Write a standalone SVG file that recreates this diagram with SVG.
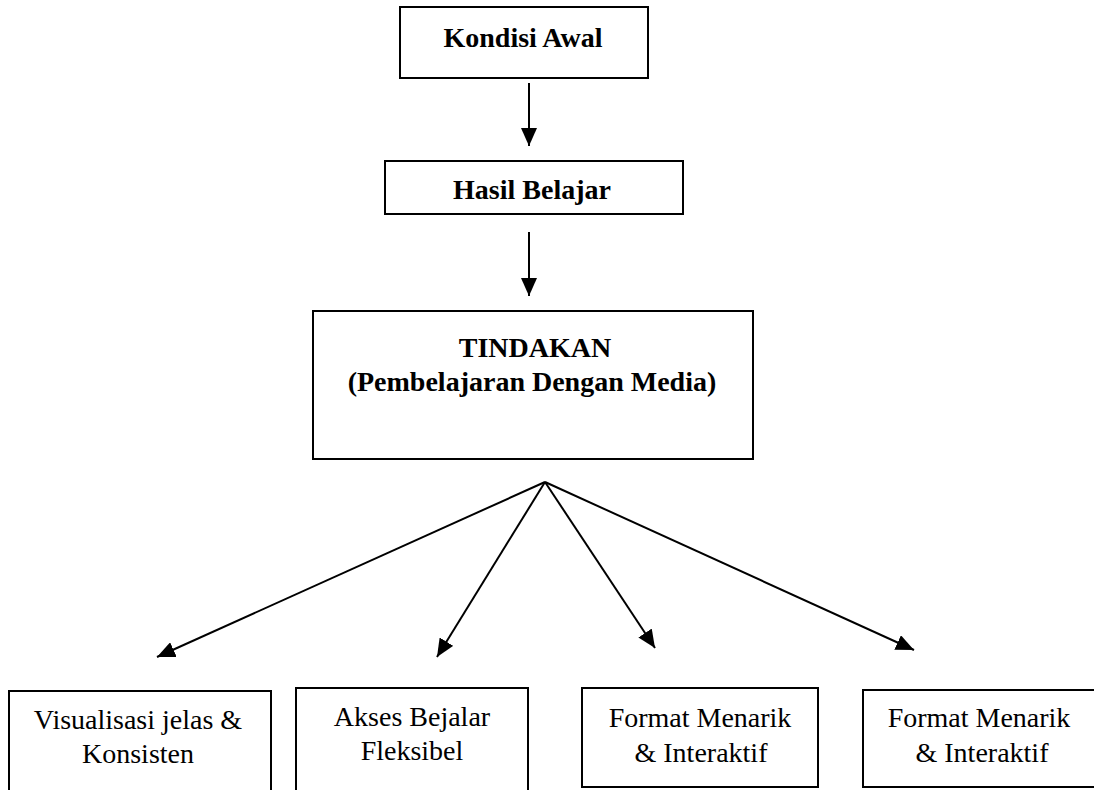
<svg xmlns="http://www.w3.org/2000/svg" width="1094" height="790" viewBox="0 0 1094 790">
<defs>
<style>
.box{fill:#fff;stroke:#000;stroke-width:2}
.t{font-family:"Liberation Serif","Times New Roman",serif;font-size:28px;fill:#000;text-anchor:middle}
.b{font-weight:bold}
.c{stroke:#000;stroke-width:2;fill:none}
</style>
<marker id="ah" markerUnits="userSpaceOnUse" viewBox="0 0 18 16" refX="18" refY="8" markerWidth="18" markerHeight="16" orient="auto">
<path d="M0,0 L18,8 L0,16 z" fill="#000"/>
</marker>
</defs>
<rect width="1094" height="790" fill="#fff"/>
<g id="connectors">
<line class="c" x1="529" y1="83" x2="529" y2="146" marker-end="url(#ah)"/>
<line class="c" x1="529" y1="232" x2="529" y2="296" marker-end="url(#ah)"/>
<line class="c" x1="545" y1="482" x2="157" y2="657" marker-end="url(#ah)"/>
<line class="c" x1="545" y1="482" x2="437" y2="657" marker-end="url(#ah)"/>
<line class="c" x1="545" y1="482" x2="655" y2="648" marker-end="url(#ah)"/>
<line class="c" x1="545" y1="482" x2="914" y2="650" marker-end="url(#ah)"/>
</g>
<g id="kondisi">
<rect class="box" x="400" y="7" width="248" height="71"/>
<text class="t b" x="523" y="47">Kondisi Awal</text>
</g>
<g id="hasil">
<rect class="box" x="385" y="161" width="298" height="53"/>
<text class="t b" x="532" y="199">Hasil Belajar</text>
</g>
<g id="tindakan">
<rect class="box" x="313" y="311" width="440" height="148"/>
<text class="t b" x="535" y="357">TINDAKAN</text>
<text class="t b" x="532" y="391">(Pembelajaran Dengan Media)</text>
</g>
<g id="visualisasi">
<rect class="box" x="9" y="691" width="262" height="110"/>
<text class="t" x="138" y="729">Visualisasi jelas &amp;</text>
<text class="t" x="138" y="763">Konsisten</text>
</g>
<g id="akses">
<rect class="box" x="296" y="688" width="232" height="113"/>
<text class="t" x="412" y="726">Akses Bejalar</text>
<text class="t" x="412" y="760">Fleksibel</text>
</g>
<g id="format1">
<rect class="box" x="582" y="688" width="236" height="99"/>
<text class="t" x="700" y="727">Format Menarik</text>
<text class="t" x="701" y="762">&amp; Interaktif</text>
</g>
<g id="format2">
<rect class="box" x="863" y="690" width="240" height="97"/>
<text class="t" x="979" y="727">Format Menarik</text>
<text class="t" x="982" y="762">&amp; Interaktif</text>
</g>
</svg>
